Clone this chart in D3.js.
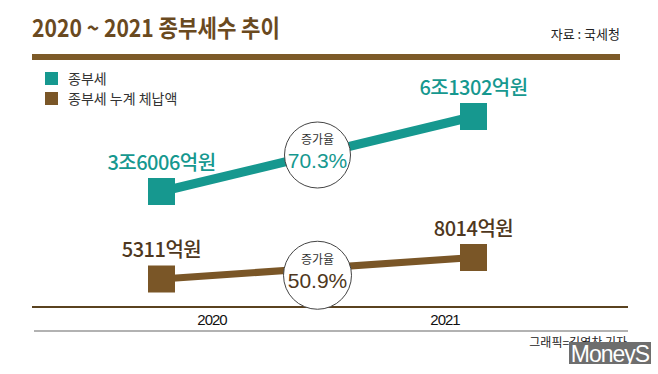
<!DOCTYPE html>
<html>
<head>
<meta charset="utf-8">
<script src="https://cdn.jsdelivr.net/npm/d3@7"></script>
<style>
  body { margin: 0; background: #fff; }
  svg { display: block; font-family: "Noto Sans CJK KR", "Noto Sans", sans-serif; }
</style>
</head>
<body>
<script>
// data
var years = ["2020", "2021"];
var taxValues = [36006, 61302];        // 종부세 (억원)
var arrearsValues = [5311, 8014];      // 종부세 누계 체납액 (억원)
var taxLabels = ["3조6006억원", "6조1302억원"];
var arrearsLabels = ["5311억원", "8014억원"];
var growth = ["70.3%", "50.9%"];
var legendNames = ["종부세", "종부세 누계 체납액"];

var width = 658, height = 374;
var teal = "#16988f", brown = "#7a5627", darkBrown = "#4e3720";

var svg = d3.select("body").append("svg")
    .attr("width", width)
    .attr("height", height);

// scales
var x = d3.scalePoint().domain(years).range([161.5, 473.5]);
var xAxisScale = d3.scalePoint().domain(years).range([212, 445]);

var yTax = d3.scaleLinear()
    .domain(d3.extent(taxValues))
    .range([191.5, 116.5]);
var yArrears = d3.scaleLinear()
    .domain(d3.extent(arrearsValues))
    .range([279, 257.5]);

// header
svg.append("text")
    .attr("x", 32)
    .attr("y", 37)
    .attr("fill", "#6a4a1f")
    .attr("font-size", "24px")
    .attr("font-weight", "bold")
    .attr("textLength", 248)
    .attr("lengthAdjust", "spacingAndGlyphs")
    .text("2020 ~ 2021 종부세수 추이");

svg.append("text")
    .attr("x", 620)
    .attr("y", 39)
    .attr("text-anchor", "end")
    .attr("fill", "#222")
    .attr("font-size", "13px")
    .text("자료 : 국세청");

svg.append("rect")
    .attr("x", 32).attr("y", 54)
    .attr("width", 588).attr("height", 6)
    .attr("fill", "#7d5a28");

// legend
var legend = svg.append("g")
    .selectAll("g")
    .data(legendNames)
    .enter().append("g")
    .attr("transform", function(d, i) { return "translate(45," + (72 + i * 20) + ")"; });

legend.append("rect")
    .attr("width", 13)
    .attr("height", 13)
    .attr("fill", function(d, i) { return i === 0 ? teal : brown; });

legend.append("text")
    .attr("x", 23)
    .attr("y", 12)
    .attr("font-size", "14px")
    .attr("fill", "#333")
    .text(function(d) { return d; });

// series
var series = [
    {values: taxValues, labels: taxLabels, y: yTax, color: teal, textColor: teal, stroke: 9, pct: growth[0], circleDy: 1, r: 33},
    {values: arrearsValues, labels: arrearsLabels, y: yArrears, color: brown, textColor: darkBrown, stroke: 7, pct: growth[1], circleDy: 7, r: 34}
];

// axis lines
svg.append("line")
    .attr("x1", 32).attr("x2", 628)
    .attr("y1", 307).attr("y2", 307)
    .attr("stroke", "#5a421f")
    .attr("stroke-width", 2);

svg.append("line")
    .attr("x1", 34).attr("x2", 628)
    .attr("y1", 331).attr("y2", 331)
    .attr("stroke", "#999")
    .attr("stroke-width", 1.5);

series.forEach(function(s) {
    var pts = years.map(function(yr, i) { return [x(yr), s.y(s.values[i])]; });

    svg.append("path")
        .attr("d", d3.line()(pts))
        .attr("stroke", s.color)
        .attr("stroke-width", s.stroke)
        .attr("fill", "none");

    svg.selectAll(null)
        .data(pts)
        .enter().append("rect")
        .attr("x", function(d) { return d[0] - 13.5; })
        .attr("y", function(d) { return d[1] - 13.5; })
        .attr("width", 27)
        .attr("height", 27)
        .attr("fill", s.color);

    svg.selectAll(null)
        .data(pts)
        .enter().append("text")
        .attr("x", function(d) { return d[0]; })
        .attr("y", function(d) { return d[1] - 22; })
        .attr("text-anchor", "middle")
        .attr("font-size", "20px")
        .attr("font-weight", 500)
        .attr("letter-spacing", "-0.5px")
        .attr("fill", s.textColor)
        .text(function(d, i) { return s.labels[i]; });

    // growth circle at the middle of the line
    var cx = (pts[0][0] + pts[1][0]) / 2,
        cy = (pts[0][1] + pts[1][1]) / 2 + s.circleDy;

    svg.append("circle")
        .attr("cx", cx).attr("cy", cy).attr("r", s.r)
        .attr("fill", "#fff")
        .attr("stroke", "#444")
        .attr("stroke-width", 1);

    svg.append("text")
        .attr("x", cx).attr("y", cy - 11)
        .attr("text-anchor", "middle")
        .attr("font-size", "12px")
        .attr("fill", "#333")
        .text("증가율");

    svg.append("text")
        .attr("x", cx).attr("y", cy + 13)
        .attr("text-anchor", "middle")
        .attr("font-family", "Liberation Sans, Arial, sans-serif")
        .attr("font-size", "21px")
        .attr("fill", s.textColor)
        .text(s.pct);
});

// year labels
svg.selectAll(".year")
    .data(years)
    .enter().append("text")
    .attr("class", "year")
    .attr("x", function(d) { return xAxisScale(d); })
    .attr("y", 325)
    .attr("text-anchor", "middle")
    .attr("font-family", "Liberation Sans, Arial, sans-serif")
    .attr("font-size", "15px")
    .attr("letter-spacing", "-1px")
    .attr("fill", "#111")
    .text(function(d) { return d; });

// credit
svg.append("text")
    .attr("x", 627)
    .attr("y", 347)
    .attr("text-anchor", "end")
    .attr("font-size", "12px")
    .attr("fill", "#222")
    .text("그래픽=김영찬 기자");

svg.append("rect")
    .attr("x", 569).attr("y", 342)
    .attr("width", 82).attr("height", 22)
    .attr("fill", "#6e6e6e");

svg.append("text")
    .attr("x", 610).attr("y", 362)
    .attr("text-anchor", "middle")
    .attr("font-family", "Liberation Sans, Arial, sans-serif")
    .attr("font-size", "23px")
    .attr("letter-spacing", "-1px")
    .attr("fill", "#fff")
    .text("MoneyS");
</script>
</body>
</html>
